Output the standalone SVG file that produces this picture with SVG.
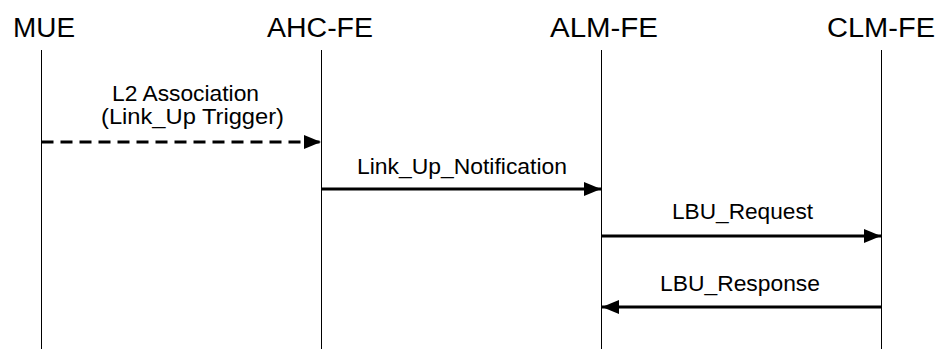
<svg xmlns="http://www.w3.org/2000/svg" width="938" height="349" viewBox="0 0 938 349">
<style>
text{font-family:"Liberation Sans",Arial,sans-serif;fill:#000}
.h{font-size:27px}
.m{font-size:22px}
.life{stroke:#000;stroke-width:1}
.msg{stroke:#000;stroke-width:3;fill:none}
</style>
<defs>
<marker id="ah" markerWidth="17" markerHeight="14" refX="17" refY="7" orient="auto" markerUnits="userSpaceOnUse">
<path d="M0,0 L17,7 L0,14 Z" fill="#000"/>
</marker>
</defs>
<rect width="938" height="349" fill="#fff"/>
<g id="MUE">
<text class="h" x="13" y="37" textLength="62" lengthAdjust="spacingAndGlyphs">MUE</text>
<line class="life" x1="41.5" y1="50" x2="41.5" y2="349"/>
</g>
<g id="AHC-FE">
<text class="h" x="267" y="37" textLength="106" lengthAdjust="spacingAndGlyphs">AHC-FE</text>
<line class="life" x1="321.5" y1="50" x2="321.5" y2="349"/>
</g>
<g id="ALM-FE">
<text class="h" x="550" y="37" textLength="108" lengthAdjust="spacingAndGlyphs">ALM-FE</text>
<line class="life" x1="601.5" y1="50" x2="601.5" y2="349"/>
</g>
<g id="CLM-FE">
<text class="h" x="827" y="37" textLength="108" lengthAdjust="spacingAndGlyphs">CLM-FE</text>
<line class="life" x1="881.5" y1="50" x2="881.5" y2="349"/>
</g>
<g id="connectors">
<line class="msg" x1="41.5" y1="142" x2="321" y2="142" stroke-dasharray="12,7" marker-end="url(#ah)"/>
<text class="m" x="112" y="101" textLength="147" lengthAdjust="spacingAndGlyphs">L2 Association</text>
<text class="m" x="101" y="124" textLength="183" lengthAdjust="spacingAndGlyphs">(Link_Up Trigger)</text>
<line class="msg" x1="321.5" y1="189" x2="601" y2="189" marker-end="url(#ah)"/>
<text class="m" x="357" y="174" textLength="210" lengthAdjust="spacingAndGlyphs">Link_Up_Notification</text>
<line class="msg" x1="601.5" y1="236" x2="881" y2="236" marker-end="url(#ah)"/>
<text class="m" x="672" y="219" textLength="141" lengthAdjust="spacingAndGlyphs">LBU_Request</text>
<line class="msg" x1="881.5" y1="307" x2="602" y2="307" marker-end="url(#ah)"/>
<text class="m" x="660" y="291" textLength="160" lengthAdjust="spacingAndGlyphs">LBU_Response</text>
</g>
</svg>
